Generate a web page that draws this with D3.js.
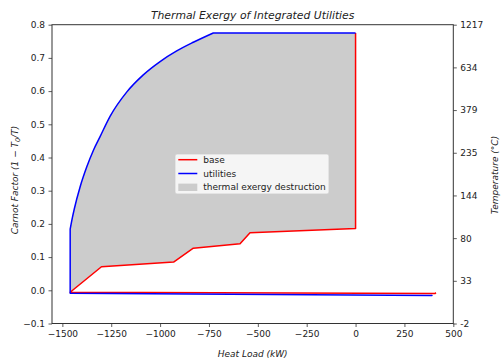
<!DOCTYPE html>
<html>
<head>
<meta charset="utf-8">
<script src="https://cdn.jsdelivr.net/npm/d3@7"></script>
<style>
  body { margin: 0; background: #fff; }
  text { font-family: "DejaVu Sans", sans-serif; fill: #222; }
</style>
</head>
<body>
<script>
// chart values
var baseQ = [411, 406, -1460, -1300, -931, -830, -591, -540, 0, 0];
var baseC = [-0.007, -0.010, -0.006, 0.071, 0.085, 0.127, 0.140, 0.173, 0.186, 0.775];

// utilities: bottom run, vertical rise, then the curved part, then the flat top
var utilQ = [393, 389, -1460, -1460, -1449, -1439, -1409, -1375, -1341, -1307, -1256, -1171, -1086, -1000, -915, -830, -728, 0];
var utilC = [-0.014, -0.016, -0.009, 0.184, 0.218, 0.245, 0.312, 0.372, 0.422, 0.463, 0.524, 0.597, 0.649, 0.689, 0.721, 0.747, 0.775, 0.775];

var xTicks = [-1500, -1250, -1000, -750, -500, -250, 0, 250, 500];
var yTicks = [-0.1, 0, 0.1, 0.2, 0.3, 0.4, 0.5, 0.6, 0.7, 0.8];
var tempLabels = ["-2", "33", "80", "144", "235", "379", "634", "1217"];

window.onload = function(){

    var w = 502, h = 360;
    var left = 52, right = 453.3, top = 24.7, bottom = 323.5;

    var svg = d3.select("body")
       .append("svg")
       .attr("width", w)
       .attr("height", h)
       .attr("class", "container");

    var x = d3.scaleLinear().domain([-1553, 500]).range([left, right]);
    var y = d3.scaleLinear().domain([-0.1, 0.8]).range([bottom, top]);

    var base = baseQ.map(function(q, i){ return [q, baseC[i]]; });
    var util = utilQ.map(function(q, i){ return [q, utilC[i]]; });

    var line = d3.line()
       .x(function(d){ return x(d[0]); })
       .y(function(d){ return y(d[1]); });
    var smooth = d3.line()
       .x(function(d){ return x(d[0]); })
       .y(function(d){ return y(d[1]); })
       .curve(d3.curveMonotoneX);

    // utilities path: straight pieces + smooth curved piece
    function utilPath(from){
        var straight = line(util.slice(from, 4));
        var curved = smooth(util.slice(3, 17)).replace(/^M/, "L");
        var flat = line(util.slice(16)).replace(/^M/, "L");
        return straight + curved + flat;
    }

    // grey area: utilities curve up, then base curve back down
    var back = line(base.slice(2).reverse()).replace(/^M/, "L");
    svg.append("path")
       .attr("d", utilPath(2) + back + "Z")
       .style("fill", "#cccccc")
       .style("stroke", "none");

    svg.append("path")
       .attr("d", line(base))
       .style("fill", "none")
       .style("stroke", "red")
       .style("stroke-width", 1.5)
       .style("stroke-linejoin", "round");

    svg.append("path")
       .attr("d", utilPath(0))
       .style("fill", "none")
       .style("stroke", "blue")
       .style("stroke-width", 1.5)
       .style("stroke-linejoin", "round");

    // axes
    var xAxis = d3.axisBottom(x).tickValues(xTicks).tickFormat(d3.format("d"))
       .tickSize(3.5).tickPadding(3.5);
    var yAxis = d3.axisLeft(y).tickValues(yTicks).tickFormat(d3.format(".1f"))
       .tickSize(3.5).tickPadding(3.5);
    var tempPos = tempLabels.map(function(d, i){ return -0.1 + i * 0.9 / 7; });
    var rAxis = d3.axisRight(y).tickValues(tempPos)
       .tickFormat(function(d, i){ return tempLabels[i]; })
       .tickSize(3.5).tickPadding(3.5);

    [[xAxis, "translate(0," + bottom + ")"],
     [yAxis, "translate(" + left + ",0)"],
     [rAxis, "translate(" + right + ",0)"]].forEach(function(a){
        var g = svg.append("g").attr("transform", a[1]).call(a[0]);
        g.select(".domain").remove();
        g.selectAll("line").attr("stroke", "#333").attr("stroke-width", 0.8);
        g.selectAll("text").style("font-size", "9px").style("fill", "#222")
           .style("font-family", "DejaVu Sans, sans-serif");
    });

    // frame
    svg.append("rect")
       .attr("x", left).attr("y", top)
       .attr("width", right - left).attr("height", bottom - top)
       .style("fill", "none")
       .style("stroke", "#333")
       .style("stroke-width", 1);

    // titles
    svg.append("text")
       .attr("x", (left + right) / 2).attr("y", 18.5)
       .attr("text-anchor", "middle")
       .style("font-size", "10.8px").style("font-style", "italic")
       .text("Thermal Exergy of Integrated Utilities");

    svg.append("text")
       .attr("x", (left + right) / 2).attr("y", 356.5)
       .attr("text-anchor", "middle")
       .style("font-size", "9px").style("font-style", "italic")
       .text("Heat Load (kW)");

    var yl = svg.append("text")
       .attr("transform", "translate(18," + 180 + ") rotate(-90)")
       .attr("text-anchor", "middle")
       .style("font-size", "9px").style("font-style", "italic");
    yl.append("tspan").text("Carnot Factor (1 \u2212 ");
    yl.append("tspan").text("T");
    yl.append("tspan").attr("baseline-shift", "-25%").style("font-size", "6.5px").text("0");
    yl.append("tspan").text("/T)");

    svg.append("text")
       .attr("transform", "translate(498," + 175 + ") rotate(-90)")
       .attr("text-anchor", "middle")
       .style("font-size", "9px").style("font-style", "italic")
       .text("Temperature (\u00B0C)");

    // legend
    var lg = svg.append("g").attr("transform", "translate(175,154)");
    lg.append("rect")
       .attr("width", 154).attr("height", 40).attr("rx", 2)
       .style("fill", "rgba(255,255,255,0.8)")
       .style("stroke", "rgba(204,204,204,0.8)")
       .style("stroke-width", 1);
    var items = [["base", "line", "red"], ["utilities", "line", "blue"], ["thermal exergy destruction", "patch", "#cccccc"]];
    items.forEach(function(it, i){
        var cy = 5.7 + i * 13.8;
        if (it[1] === "line") {
            lg.append("line").attr("x1", 3.3).attr("x2", 22.3).attr("y1", cy).attr("y2", cy)
               .style("stroke", it[2]).style("stroke-width", 1.5);
        } else {
            lg.append("rect").attr("x", 3.3).attr("y", cy - 3.7).attr("width", 19).attr("height", 7.4)
               .style("fill", it[2]);
        }
        lg.append("text").attr("x", 28.3).attr("y", cy).attr("dy", "0.35em")
           .style("font-size", "9px").text(it[0]);
    });
};
</script>
</body>
</html>
